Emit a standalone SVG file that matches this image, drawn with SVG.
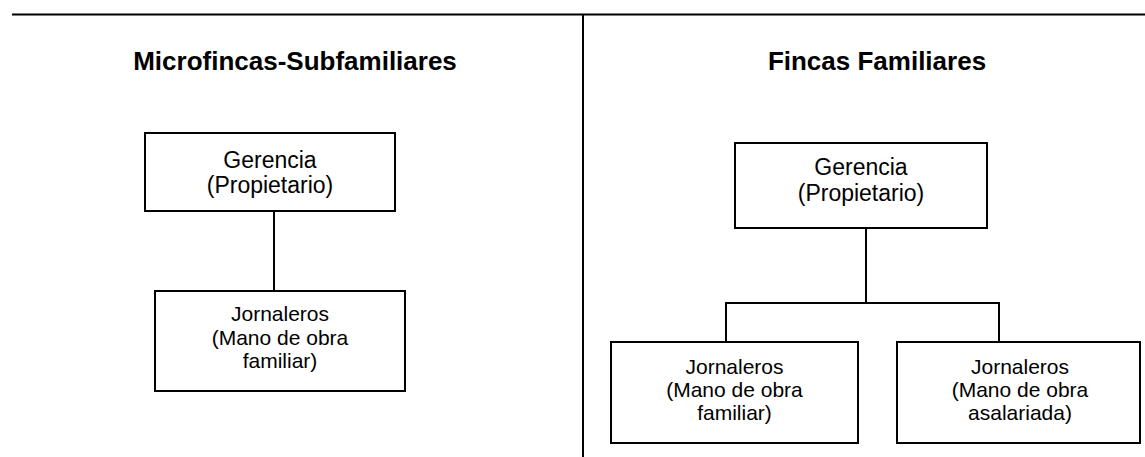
<svg xmlns="http://www.w3.org/2000/svg" width="1145" height="457" viewBox="0 0 1145 457">
<style>
.bg{fill:#ffffff}
.frame{stroke:#000;stroke-width:2;fill:none}
.box{fill:#fff;stroke:#000;stroke-width:2}
.conn{stroke:#000;stroke-width:2;fill:none}
.title{font-family:"Liberation Sans",Arial,sans-serif;font-weight:bold;font-size:26px;fill:#000;text-anchor:middle}
.t1{font-family:"Liberation Sans",Arial,sans-serif;font-size:23px;fill:#000;text-anchor:middle}
.t2{font-family:"Liberation Sans",Arial,sans-serif;font-size:21px;fill:#000;text-anchor:middle}
</style>
<rect class="bg" x="0" y="0" width="1145" height="457"/>
<g id="frame">
<line class="frame" x1="12" y1="14.5" x2="1145" y2="14.5"/>
<line class="frame" x1="583" y1="14.5" x2="583" y2="457"/>
</g>
<g id="title-left"><text class="title" x="295" y="70">Microfincas-Subfamiliares</text></g>
<g id="title-right"><text class="title" x="877" y="70">Fincas Familiares</text></g>
<g id="connectors">
<line class="conn" x1="274" y1="211" x2="274" y2="291"/>
<polyline class="conn" points="866,228 866,303"/>
<polyline class="conn" points="726,342 726,303 999,303 999,342"/>
</g>
<g id="left-gerencia">
<rect class="box" x="145" y="133" width="250" height="78"/>
<text class="t1" x="270" y="168">Gerencia</text>
<text class="t1" x="270" y="193">(Propietario)</text>
</g>
<g id="left-jornaleros">
<rect class="box" x="155" y="291" width="250" height="100"/>
<text class="t2" x="280" y="321">Jornaleros</text>
<text class="t2" x="280" y="345">(Mano de obra</text>
<text class="t2" x="280" y="368">familiar)</text>
</g>
<g id="right-gerencia">
<rect class="box" x="735" y="143" width="252" height="85"/>
<text class="t1" x="861" y="175">Gerencia</text>
<text class="t1" x="861" y="201">(Propietario)</text>
</g>
<g id="right-jornaleros-familiar">
<rect class="box" x="611" y="342" width="247" height="101"/>
<text class="t2" x="734.5" y="374">Jornaleros</text>
<text class="t2" x="734.5" y="397">(Mano de obra</text>
<text class="t2" x="734.5" y="420">familiar)</text>
</g>
<g id="right-jornaleros-asalariada">
<rect class="box" x="897" y="342" width="243" height="101"/>
<text class="t2" x="1020" y="374">Jornaleros</text>
<text class="t2" x="1020" y="397">(Mano de obra</text>
<text class="t2" x="1020" y="420">asalariada)</text>
</g>
</svg>
